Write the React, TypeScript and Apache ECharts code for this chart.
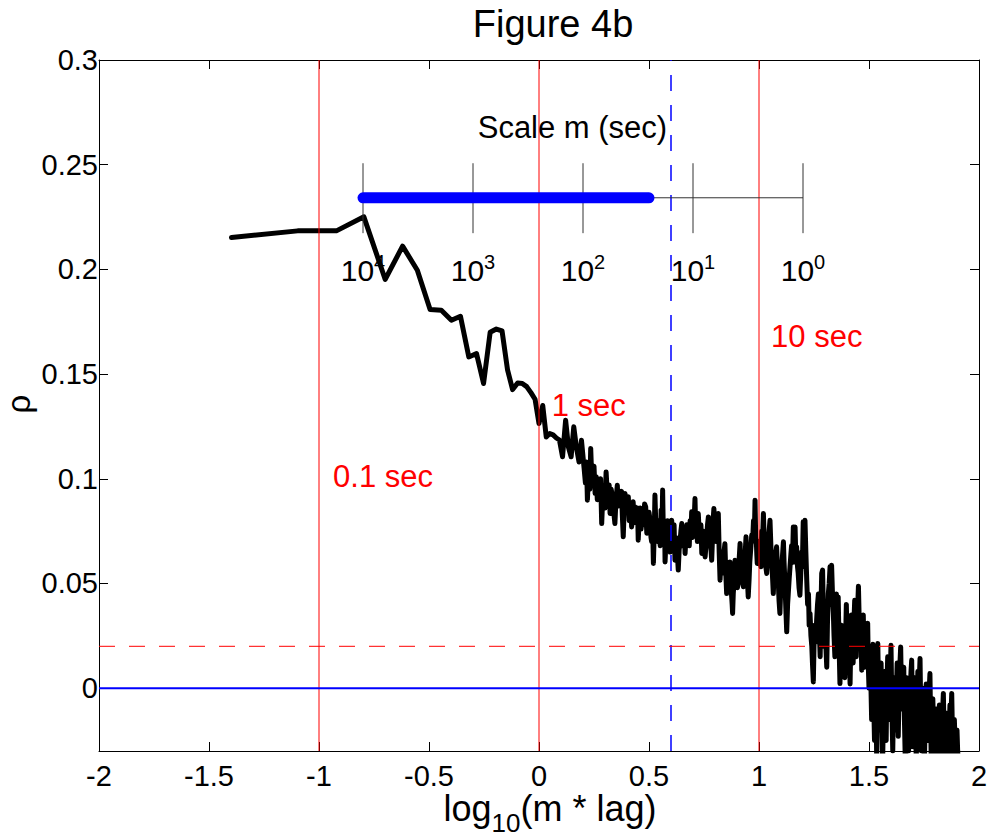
import React, { useEffect, useRef } from "react";
import * as echarts from "echarts";

const FONT = "'Liberation Sans', Arial, Helvetica, sans-serif";

const X_MIN = -2;
const X_MAX = 2;
const X_INTERVAL = 0.5;
const Y_MIN = -0.03;
const Y_MAX = 0.3;
const yTicks = [0, 0.05, 0.1, 0.15, 0.2, 0.25, 0.3];

// rho vs log10(m * lag)
const rhoPoints: [number, number][] = [
  [-1.398, 0.2152], [-1.097, 0.2184], [-0.921, 0.2184], [-0.796, 0.2251],
  [-0.699, 0.1952], [-0.62, 0.2111], [-0.553, 0.1996], [-0.495, 0.1808],
  [-0.444, 0.1805], [-0.398, 0.1757], [-0.357, 0.1776], [-0.319, 0.1582],
  [-0.284, 0.1598], [-0.252, 0.1455], [-0.222, 0.17], [-0.194, 0.1715],
  [-0.168, 0.1706], [-0.143, 0.152], [-0.12, 0.1426], [-0.097, 0.1458],
  [-0.076, 0.1455], [-0.056, 0.144], [-0.036, 0.141], [-0.018, 0.138],
  [0.0, 0.1264], [0.017, 0.135], [0.033, 0.12], [0.049, 0.1216],
  [0.064, 0.121], [0.079, 0.1195], [0.093, 0.1185], [0.107, 0.1105],
  [0.121, 0.128], [0.134, 0.115], [0.146, 0.1105], [0.158, 0.1248],
  [0.17, 0.115], [0.182, 0.108], [0.193, 0.1184],
  [0.205, 0.105], [0.211, 0.098], [0.216, 0.108], [0.22, 0.0898], [0.226, 0.104],
  [0.231, 0.095], [0.235, 0.1145], [0.24, 0.1], [0.245, 0.099], [0.25, 0.106],
  [0.255, 0.093], [0.26, 0.101], [0.265, 0.09], [0.27, 0.0985], [0.275, 0.092],
  [0.28, 0.1], [0.285, 0.0786], [0.29, 0.092], [0.295, 0.095], [0.3, 0.086],
  [0.305, 0.1033], [0.31, 0.094], [0.315, 0.09], [0.319, 0.097], [0.323, 0.0834],
  [0.328, 0.095], [0.333, 0.092], [0.339, 0.085], [0.345, 0.0786], [0.35, 0.09],
  [0.356, 0.0969], [0.36, 0.087], [0.365, 0.088], [0.37, 0.093], [0.375, 0.094],
  [0.379, 0.082], [0.383, 0.0723], [0.387, 0.085], [0.391, 0.093], [0.396, 0.086],
  [0.401, 0.09], [0.406, 0.0914], [0.41, 0.08], [0.414, 0.082], [0.418, 0.088],
  [0.421, 0.077], [0.425, 0.084], [0.428, 0.089], [0.432, 0.079], [0.436, 0.0866],
  [0.44, 0.082], [0.444, 0.08], [0.448, 0.086], [0.451, 0.0707], [0.456, 0.082],
  [0.46, 0.086], [0.464, 0.076], [0.467, 0.0834], [0.471, 0.08], [0.475, 0.078],
  [0.48, 0.088], [0.485, 0.0866], [0.49, 0.074], [0.495, 0.075], [0.5, 0.084],
  [0.505, 0.0802], [0.509, 0.072], [0.512, 0.07], [0.516, 0.08], [0.52, 0.0596],
  [0.524, 0.075], [0.527, 0.0922], [0.531, 0.078], [0.535, 0.076], [0.539, 0.07],
  [0.543, 0.08], [0.547, 0.0739], [0.551, 0.068], [0.555, 0.085], [0.559, 0.077],
  [0.562, 0.0946], [0.565, 0.075], [0.568, 0.07], [0.571, 0.078], [0.573, 0.0603],
  [0.577, 0.07], [0.58, 0.072], [0.584, 0.08], [0.588, 0.077], [0.592, 0.068],
  [0.596, 0.065], [0.6, 0.075], [0.603, 0.0802], [0.607, 0.072], [0.61, 0.07],
  [0.614, 0.078], [0.618, 0.0611], [0.622, 0.072], [0.625, 0.07], [0.629, 0.064],
  [0.633, 0.0564], [0.637, 0.066], [0.641, 0.07], [0.645, 0.075], [0.649, 0.0786],
  [0.653, 0.068], [0.657, 0.07], [0.661, 0.074], [0.664, 0.0643], [0.668, 0.072],
  [0.672, 0.078], [0.676, 0.07], [0.679, 0.0739], [0.683, 0.068], [0.687, 0.08],
  [0.691, 0.074], [0.694, 0.0842], [0.698, 0.072], [0.702, 0.075], [0.706, 0.082],
  [0.709, 0.0906], [0.713, 0.074], [0.717, 0.08], [0.72, 0.07], [0.724, 0.0834],
  [0.728, 0.075], [0.732, 0.07], [0.736, 0.078], [0.74, 0.0643], [0.744, 0.07],
  [0.748, 0.075], [0.752, 0.068], [0.755, 0.0627], [0.759, 0.068], [0.762, 0.072],
  [0.766, 0.078], [0.77, 0.0818], [0.774, 0.072], [0.778, 0.07], [0.782, 0.066],
  [0.785, 0.0611], [0.788, 0.07], [0.79, 0.078], [0.795, 0.0858], [0.8, 0.075],
  [0.805, 0.07], [0.81, 0.078], [0.815, 0.0834], [0.819, 0.065], [0.823, 0.0516],
  [0.827, 0.062], [0.83, 0.065], [0.834, 0.055], [0.838, 0.058], [0.842, 0.066],
  [0.845, 0.069], [0.849, 0.055], [0.853, 0.0452], [0.857, 0.055], [0.86, 0.056],
  [0.864, 0.05], [0.868, 0.0603], [0.872, 0.052], [0.875, 0.045], [0.878, 0.04],
  [0.88, 0.0357], [0.883, 0.045], [0.886, 0.05], [0.889, 0.058], [0.891, 0.0611],
  [0.895, 0.05], [0.898, 0.056], [0.902, 0.048], [0.906, 0.0516], [0.91, 0.062],
  [0.914, 0.0691], [0.918, 0.058], [0.922, 0.056], [0.926, 0.05], [0.929, 0.0484],
  [0.932, 0.055], [0.935, 0.06], [0.938, 0.066], [0.941, 0.0723], [0.944, 0.06],
  [0.946, 0.055], [0.949, 0.048], [0.951, 0.0436], [0.955, 0.052], [0.958, 0.06],
  [0.962, 0.066], [0.967, 0.0731], [0.971, 0.07], [0.975, 0.08], [0.979, 0.074],
  [0.982, 0.0898], [0.985, 0.072], [0.988, 0.07], [0.99, 0.064], [0.992, 0.0596],
  [0.996, 0.066], [1.0, 0.07], [1.005, 0.0643], [1.009, 0.058], [1.012, 0.075],
  [1.016, 0.07], [1.02, 0.0834], [1.024, 0.07], [1.028, 0.065], [1.031, 0.058],
  [1.035, 0.0548], [1.039, 0.062], [1.042, 0.07], [1.046, 0.075], [1.05, 0.0802],
  [1.054, 0.068], [1.058, 0.06], [1.062, 0.052], [1.065, 0.0452], [1.069, 0.055],
  [1.072, 0.06], [1.076, 0.064], [1.08, 0.0675], [1.084, 0.058], [1.088, 0.05],
  [1.091, 0.042], [1.095, 0.0357], [1.099, 0.048], [1.102, 0.055], [1.106, 0.062],
  [1.111, 0.0699], [1.114, 0.06], [1.118, 0.05], [1.122, 0.038], [1.126, 0.0269],
  [1.13, 0.04], [1.133, 0.045], [1.137, 0.052], [1.141, 0.058], [1.145, 0.064],
  [1.148, 0.068], [1.152, 0.06], [1.156, 0.077], [1.16, 0.062], [1.164, 0.077],
  [1.168, 0.06], [1.171, 0.0675], [1.175, 0.058], [1.178, 0.055], [1.182, 0.048],
  [1.186, 0.0444], [1.19, 0.055], [1.194, 0.065], [1.197, 0.058], [1.201, 0.0795],
  [1.205, 0.062], [1.209, 0.0802], [1.213, 0.065], [1.217, 0.0516], [1.221, 0.04],
  [1.225, 0.045], [1.228, 0.03], [1.232, 0.0357], [1.236, 0.025], [1.24, 0.02],
  [1.243, 0.012], [1.247, 0.003], [1.25, 0.02], [1.254, 0.03], [1.258, 0.022],
  [1.262, 0.0325], [1.266, 0.04], [1.27, 0.045], [1.274, 0.028], [1.278, 0.015],
  [1.281, 0.035], [1.285, 0.0548], [1.289, 0.0564], [1.292, 0.04], [1.295, 0.03],
  [1.298, 0.02], [1.3, 0.0357], [1.304, 0.02], [1.308, 0.01], [1.311, 0.03],
  [1.315, 0.045], [1.319, 0.05], [1.323, 0.058], [1.326, 0.04], [1.33, 0.0587],
  [1.334, 0.045], [1.338, 0.0357], [1.341, 0.025], [1.345, 0.015], [1.348, 0.03],
  [1.352, 0.045], [1.356, 0.03], [1.36, 0.0436], [1.364, 0.02], [1.368, 0.0022],
  [1.371, 0.015], [1.375, 0.03], [1.379, 0.012], [1.383, 0.0293], [1.387, 0.015],
  [1.39, 0.005], [1.394, 0.025], [1.397, 0.04], [1.401, 0.02], [1.405, 0.01],
  [1.409, 0.025], [1.414, 0.002], [1.417, 0.02], [1.42, 0.035], [1.424, 0.02],
  [1.428, 0.012], [1.431, 0.03], [1.435, 0.042], [1.438, 0.025], [1.442, 0.015],
  [1.446, 0.035], [1.449, 0.04], [1.452, 0.0487], [1.456, 0.03], [1.46, 0.02],
  [1.463, 0.03], [1.467, 0.0086], [1.47, 0.025], [1.474, 0.035], [1.477, 0.02],
  [1.48, 0.01], [1.484, 0.025], [1.487, 0.03], [1.49, 0.015], [1.494, 0.031],
  [1.497, 0.01], [1.5, 0.0], [1.503, 0.015], [1.506, 0.02], [1.509, 0.0],
  [1.512, -0.015], [1.515, 0.005], [1.518, 0.021], [1.521, -0.005], [1.525, -0.025],
  [1.528, 0.0], [1.53, 0.01], [1.533, -0.015], [1.535, -0.035], [1.538, 0.0],
  [1.54, 0.0213], [1.544, -0.005], [1.548, -0.02], [1.551, 0.0], [1.555, 0.012],
  [1.558, -0.015], [1.562, -0.035], [1.566, -0.01], [1.57, 0.008], [1.574, -0.01],
  [1.578, -0.025], [1.581, 0.0], [1.585, 0.015], [1.588, -0.005], [1.592, -0.015],
  [1.596, 0.005], [1.6, 0.0205], [1.604, -0.01], [1.608, -0.03], [1.611, -0.01],
  [1.615, 0.005], [1.618, -0.012], [1.622, -0.02], [1.625, 0.0], [1.628, 0.012],
  [1.631, -0.01], [1.633, -0.023], [1.637, 0.0], [1.64, 0.01], [1.644, 0.0197],
  [1.647, 0.0], [1.65, -0.01], [1.654, 0.0], [1.658, 0.01], [1.661, -0.015],
  [1.665, -0.035], [1.668, -0.01], [1.672, 0.005], [1.676, -0.015], [1.68, -0.03],
  [1.684, -0.01], [1.688, 0.0], [1.691, 0.008], [1.694, 0.0134], [1.697, -0.01],
  [1.7, -0.028], [1.704, -0.008], [1.708, 0.005], [1.711, -0.015], [1.715, -0.035],
  [1.718, -0.01], [1.722, 0.008], [1.726, -0.005], [1.729, 0.005], [1.732, 0.0142],
  [1.735, -0.01], [1.738, -0.03], [1.741, -0.012], [1.745, 0.0], [1.748, -0.018],
  [1.752, -0.035], [1.756, -0.012], [1.76, 0.002], [1.764, -0.012], [1.768, -0.025],
  [1.772, -0.005], [1.777, 0.007], [1.78, -0.015], [1.783, -0.035], [1.787, -0.015],
  [1.79, -0.005], [1.794, -0.02], [1.798, -0.035], [1.801, -0.02], [1.805, -0.01],
  [1.808, -0.025], [1.812, -0.035], [1.816, -0.018], [1.82, -0.008], [1.824, -0.022],
  [1.828, -0.035], [1.833, -0.015], [1.838, -0.0025], [1.841, -0.02], [1.845, -0.035],
  [1.848, -0.02], [1.852, -0.012], [1.856, -0.025], [1.86, -0.035], [1.864, -0.02],
  [1.868, -0.008], [1.872, -0.015], [1.876, -0.0025], [1.879, -0.02], [1.882, -0.035],
  [1.885, -0.025], [1.888, -0.015], [1.891, -0.025], [1.895, -0.035], [1.898, -0.028],
  [1.9, -0.02], [1.903, -0.03], [1.906, -0.035],
];

// reference lines
const secondLinesX = [-1, 0, 1];
const secondLabels = ["0.1 sec", "1 sec", "10 sec"];
const secondLabelX = [-0.936, 0.058, 1.055];
const secondLabelY = [0.1012, 0.1351, 0.168];
const dashedVerticalX = 0.6;
const zeroLineY = 0;
const thresholdY = 0.02;

// scale-m inset bar
const scaleBarY = 0.2342;
const scaleTickX = [-0.8, -0.3, 0.2, 0.7, 1.2];
const scaleTickExp = ["4", "3", "2", "1", "0"];
const scaleTickYRange = [0.2173, 0.2507];
const scaleBlueRange = [-0.8, 0.5];
const scaleLabelY = 0.1996;
const scaleTitle = "Scale m (sec)";
const scaleTitlePos = [0.152, 0.268];

export default function App() {
  const ref = useRef<HTMLDivElement>(null);

  useEffect(() => {
    if (!ref.current) return;
    const chart = echarts.init(ref.current, null, { renderer: "svg" });

    const ctx = document.createElement("canvas").getContext("2d")!;
    const measure = (t: string, fs: number) => {
      ctx.font = `${fs}px ${FONT}`;
      return ctx.measureText(t).width;
    };

    const seg = (pts: number[][], color: string, width: number, z: number, type: any = "solid", cap = "butt") => ({
      type: "line",
      data: pts,
      symbol: "none",
      silent: true,
      z,
      lineStyle: { color, width, type, cap },
      emphasis: { disabled: true },
    });

    const series: any[] = [];
    series.push({
      type: "line",
      data: rhoPoints,
      symbol: "none",
      silent: true,
      z: 2,
      clip: true,
      lineStyle: { color: "#000", width: 5, join: "round", cap: "round" },
      emphasis: { disabled: true },
    });
    secondLinesX.forEach((x) => series.push(seg([[x, Y_MIN], [x, Y_MAX]], "#ff0000", 1, 3)));
    series.push(seg([[dashedVerticalX, Y_MIN], [dashedVerticalX, Y_MAX]], "#0000ff", 1.5, 3, [16, 14]));
    series.push(seg([[X_MIN, zeroLineY], [X_MAX, zeroLineY]], "#0000ff", 2, 3));
    series.push(seg([[X_MIN, thresholdY], [X_MAX, thresholdY]], "#ff0000", 1, 3, [16, 14]));
    series.push(seg([[scaleTickX[0], scaleBarY], [scaleTickX[scaleTickX.length - 1], scaleBarY]], "#333", 1, 4));
    scaleTickX.forEach((x) => series.push(seg([[x, scaleTickYRange[0]], [x, scaleTickYRange[1]]], "#333", 1, 4)));
    series.push(seg([[scaleBlueRange[0], scaleBarY], [scaleBlueRange[1], scaleBarY]], "#0000ff", 11, 5, "solid", "round"));

    const axisLine = { show: true, onZero: false, lineStyle: { color: "#000", width: 1 } };
    const axisTick = { show: true, inside: true, length: 9, lineStyle: { color: "#000", width: 1 } };

    chart.setOption({
      animation: false,
      grid: { left: 99, right: 12, top: 60, bottom: 87, containLabel: false },
      xAxis: [
        {
          type: "value", min: X_MIN, max: X_MAX, interval: X_INTERVAL, position: "bottom",
          axisLine, axisTick,
          axisLabel: { show: true, color: "#000", fontSize: 29, fontFamily: FONT, margin: 10 },
          splitLine: { show: false },
        },
        {
          type: "value", min: X_MIN, max: X_MAX, interval: X_INTERVAL, position: "top",
          axisLine, axisTick, axisLabel: { show: false }, splitLine: { show: false },
        },
      ],
      yAxis: [
        {
          type: "value", min: Y_MIN, max: Y_MAX, position: "left",
          axisLine,
          axisTick: { ...axisTick, customValues: yTicks },
          axisLabel: {
            show: true, color: "#000", fontSize: 29, fontFamily: FONT, margin: 1,
            customValues: yTicks,
            formatter: (v: number) => String(+(+v).toFixed(2)),
          },
          splitLine: { show: false },
        },
        {
          type: "value", min: Y_MIN, max: Y_MAX, position: "right",
          axisLine,
          axisTick: { ...axisTick, customValues: yTicks },
          axisLabel: { show: false, customValues: yTicks },
          splitLine: { show: false },
        },
      ],
      series,
    });

    const px = (x: number, y: number) =>
      chart.convertToPixel({ xAxisIndex: 0, yAxisIndex: 0 }, [x, y]) as number[];

    const txt = (x: number, y: number, text: string, fontSize: number, fill: string, align = "center", extra: any = {}) => ({
      type: "text",
      x, y,
      silent: true,
      z: 100,
      ...extra,
      style: {
        text, fontSize, fontFamily: FONT, fill,
        align, textAlign: align, verticalAlign: "middle", textVerticalAlign: "middle",
      },
    });

    const graphics: any[] = [];
    graphics.push(txt(553, 24, "Figure 4b", 38, "#000"));
    graphics.push(txt(18, 404, "ρ", 33, "#000", "center", { rotation: Math.PI / 2 }));

    // x-axis label: log_10(m * lag)
    {
      const wLog = measure("log", 36);
      const wSub = measure("10", 26);
      const wRest = measure("(m * lag)", 36);
      const x0 = 550 - (wLog + wSub + wRest) / 2;
      graphics.push(txt(x0, 808, "log", 36, "#000", "left"));
      graphics.push(txt(x0 + wLog, 823, "10", 26, "#000", "left"));
      graphics.push(txt(x0 + wLog + wSub, 808, "(m * lag)", 36, "#000", "left"));
    }

    secondLabels.forEach((t, i) => {
      const p = px(secondLabelX[i], secondLabelY[i]);
      graphics.push(txt(p[0], p[1], t, 31, "#ff0000", "left"));
    });

    const sp = px(scaleTitlePos[0], scaleTitlePos[1]);
    graphics.push(txt(sp[0], sp[1], scaleTitle, 31, "#000"));

    scaleTickX.forEach((x, i) => {
      const p = px(x, scaleLabelY);
      const wBase = measure("10", 30);
      const wExp = measure(scaleTickExp[i], 20);
      const x0 = p[0] - (wBase + wExp) / 2;
      graphics.push(txt(x0, p[1], "10", 30, "#000", "left", { z: 1 }));
      graphics.push(txt(x0 + wBase, p[1] - 8, scaleTickExp[i], 20, "#000", "left", { z: 1 }));
    });

    chart.setOption({ graphic: { elements: graphics } });

    return () => chart.dispose();
  }, []);

  return (
    <div
      ref={ref}
      style={{ position: "fixed", left: 0, top: 0, width: 991, height: 838, background: "#fff" }}
    />
  );
}
